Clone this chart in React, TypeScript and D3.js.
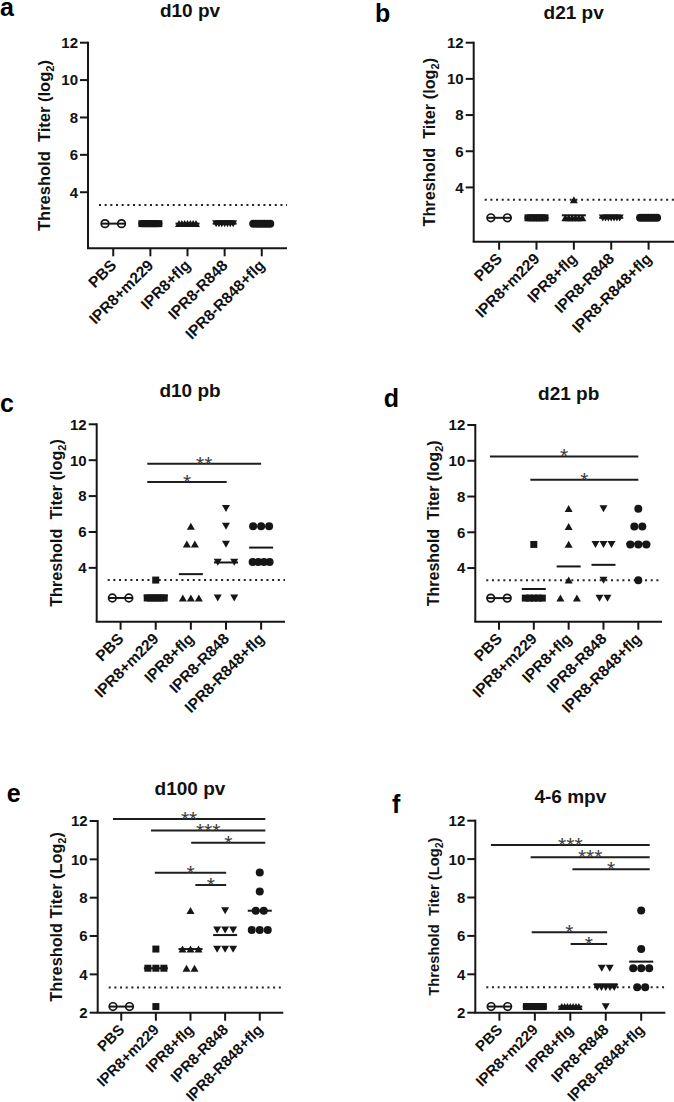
import React from "react";
import * as d3 from "d3";

// ---------- shared categories / ticks ----------
const CATEGORIES = ["PBS", "IPR8+m229", "IPR8+flg", "IPR8-R848", "IPR8-R848+flg"];
const MARKERS = ["openCircle", "square", "triUp", "triDown", "circle"];
const TICKS_EARLY = [4, 6, 8, 10, 12];
const TICKS_LATE = [2, 4, 6, 8, 10, 12];
const DETECTION_LIMIT = 3.32;

// ---------- a: d10 pv ----------
const D10PV_VALUES = [
  [2.32, 2.32],
  [2.32, 2.32, 2.32, 2.32, 2.32, 2.32, 2.32],
  [2.32, 2.32, 2.32, 2.32, 2.32, 2.32, 2.32],
  [2.32, 2.32, 2.32, 2.32, 2.32, 2.32, 2.32],
  [2.32, 2.32, 2.32, 2.32, 2.32, 2.32, 2.32],
];
const D10PV_MEANS = [2.32, 2.32, 2.32, 2.32, 2.32];

// ---------- b: d21 pv ----------
const D21PV_VALUES = [
  [2.32, 2.32],
  [2.32, 2.32, 2.32, 2.32, 2.32, 2.32, 2.32],
  [3.32, 2.32, 2.32, 2.32, 2.32, 2.32, 2.32],
  [2.32, 2.32, 2.32, 2.32, 2.32, 2.32, 2.32],
  [2.32, 2.32, 2.32, 2.32, 2.32, 2.32, 2.32],
];
const D21PV_MEANS = [2.32, 2.32, 2.46, 2.32, 2.32];

// ---------- c: d10 pb ----------
const D10PB_VALUES = [
  [2.32, 2.32],
  [3.32, 2.32, 2.32, 2.32, 2.32, 2.32, 2.32],
  [6.32, 5.32, 5.32, 2.32, 2.32, 2.32],
  [7.32, 6.32, 5.32, 4.32, 4.32, 2.32, 2.32],
  [6.32, 6.32, 6.32, 4.32, 4.32, 4.32, 4.32],
];
const D10PB_MEANS = [2.32, 2.46, 3.65, 4.3, 5.13];
const D10PB_SIG = [
  [0.76, 4, 9.8, "**"],
  [0.76, 3.02, 8.79, "*"],
];

// ---------- d: d21 pb ----------
const D21PB_VALUES = [
  [2.32, 2.32],
  [5.32, 2.32, 2.32, 2.32, 2.32, 2.32],
  [7.32, 6.32, 5.32, 3.32, 2.32, 2.32],
  [7.32, 5.32, 5.32, 5.32, 3.32, 2.32, 2.32],
  [7.32, 6.32, 6.32, 5.32, 5.32, 5.32, 3.32],
];
const D21PB_MEANS = [2.32, 2.83, 4.09, 4.18, 5.36];
const D21PB_SIG = [
  [-0.26, 4, 10.24, "*"],
  [0.9, 4, 8.94, "*"],
];

// ---------- e: d100 pv ----------
const D100PV_VALUES = [
  [2.32, 2.32],
  [5.32, 4.32, 4.32, 4.32, 2.32],
  [7.32, 5.32, 5.32, 5.32, 4.32, 4.32],
  [7.32, 6.32, 6.32, 6.32, 5.32, 5.32, 5.32],
  [9.32, 8.32, 7.32, 7.32, 6.32, 6.32, 6.32],
];
const D100PV_MEANS = [2.32, 4.32, 5.32, 6.05, 7.32];
const D100PV_SIG = [
  [-0.24, 4.16, 12.1, "**"],
  [0.86, 4.16, 11.5, "***"],
  [2.02, 4.16, 10.87, "*"],
  [0.97, 3.03, 9.3, "*"],
  [2.14, 3.03, 8.66, "*"],
];

// ---------- f: 4-6 mpv ----------
const MPV_VALUES = [
  [2.32, 2.32],
  [2.32, 2.32, 2.32, 2.32, 2.32, 2.32, 2.32],
  [2.32, 2.32, 2.32, 2.32, 2.32, 2.32, 2.32],
  [4.32, 4.32, 3.32, 3.32, 3.32, 3.32, 3.32, 2.32],
  [7.32, 5.32, 4.32, 4.32, 4.32, 3.32, 3.32],
];
const MPV_MEANS = [2.32, 2.32, 2.32, 3.48, 4.66];
const MPV_SIG = [
  [-0.24, 4.24, 10.73, "***"],
  [0.88, 4.24, 10.1, "***"],
  [2.06, 4.24, 9.47, "*"],
  [0.91, 3.04, 6.19, "*"],
  [2.01, 3.04, 5.58, "*"],
];

// ---------- layout (positions / styles) ----------
const FONT = "'Liberation Sans', Arial, Helvetica, sans-serif";
const INK = "#161616";

type Panel = {
  letter: string;
  title: string;
  values: number[][];
  means: number[];
  sig: any[];
  yMin: number;
  ticks: number[];
  yLabel: string;
  subPrefix: string;
  axisX: number;
  xEnd: number;
  yTop: number;
  yBottom: number;
  yLabelX: number;
  yLabelSize: number;
  xLabelSize: number;
  titleX: number;
  titleY: number;
  letterX: number;
  letterY: number;
  widePairs: number[][]; // [groupIndex, value]
};

const PANELS: Panel[] = [
  {
    letter: "a", title: "d10 pv", values: D10PV_VALUES, means: D10PV_MEANS, sig: [],
    yMin: 1, ticks: TICKS_EARLY, yLabel: "Threshold\u00a0 Titer (", subPrefix: "log",
    axisX: 88, xEnd: 287, yTop: 42.7, yBottom: 248.3, yLabelX: 50, yLabelSize: 16.5, xLabelSize: 15.5,
    titleX: 190, titleY: 16.5, letterX: 0, letterY: 16, widePairs: [],
  },
  {
    letter: "b", title: "d21 pv", values: D21PV_VALUES, means: D21PV_MEANS, sig: [],
    yMin: 1, ticks: TICKS_EARLY, yLabel: "Threshold\u00a0 Titer (", subPrefix: "log",
    axisX: 473.7, xEnd: 674, yTop: 42.7, yBottom: 241.7, yLabelX: 435.3, yLabelSize: 16.3, xLabelSize: 15.5,
    titleX: 573.7, titleY: 19, letterX: 375, letterY: 22, widePairs: [],
  },
  {
    letter: "c", title: "d10 pb", values: D10PB_VALUES, means: D10PB_MEANS, sig: D10PB_SIG,
    yMin: 1, ticks: TICKS_EARLY, yLabel: "Threshold\u00a0 Titer (", subPrefix: "log",
    axisX: 96.7, xEnd: 285, yTop: 424.3, yBottom: 621.7, yLabelX: 61.7, yLabelSize: 16.2, xLabelSize: 15.5,
    titleX: 190, titleY: 397, letterX: 0, letterY: 411.7, widePairs: [[3, 2.32], [3, 4.32]],
  },
  {
    letter: "d", title: "d21 pb", values: D21PB_VALUES, means: D21PB_MEANS, sig: D21PB_SIG,
    yMin: 1, ticks: TICKS_EARLY, yLabel: "Threshold\u00a0 Titer (", subPrefix: "log",
    axisX: 475.3, xEnd: 662, yTop: 425, yBottom: 621.7, yLabelX: 438.7, yLabelSize: 16, xLabelSize: 15.5,
    titleX: 568.7, titleY: 400, letterX: 383.7, letterY: 406.7, widePairs: [[2, 2.32]],
  },
  {
    letter: "e", title: "d100 pv", values: D100PV_VALUES, means: D100PV_MEANS, sig: D100PV_SIG,
    yMin: 2, ticks: TICKS_LATE, yLabel: "Threshold Titer (", subPrefix: "Log",
    axisX: 97.7, xEnd: 283.3, yTop: 821, yBottom: 1012.7, yLabelX: 61.7, yLabelSize: 16.3, xLabelSize: 15,
    titleX: 190, titleY: 795, letterX: 6.7, letterY: 801.7, widePairs: [],
  },
  {
    letter: "f", title: "4-6 mpv", values: MPV_VALUES, means: MPV_MEANS, sig: MPV_SIG,
    yMin: 2, ticks: TICKS_LATE, yLabel: "Threshold\u00a0 Titer (", subPrefix: "Log",
    axisX: 475.3, xEnd: 665.3, yTop: 820.7, yBottom: 1012.7, yLabelX: 438.7, yLabelSize: 14.8, xLabelSize: 15,
    titleX: 570.3, titleY: 803.3, letterX: 392, letterY: 813.3, widePairs: [],
  },
];

function spreadOffsets(k: number, wide: boolean): number[] {
  if (k === 1) return [0];
  const spacing = wide ? 16.5 : k <= 3 ? 8 : 17 / (k - 1);
  return d3.range(k).map((j) => (j - (k - 1) / 2) * spacing);
}

function Marker({ type, x, y }: { type: string; x: number; y: number }) {
  if (type === "openCircle")
    return <circle cx={x} cy={y} r={3.8} fill="none" stroke={INK} strokeWidth={1.7} />;
  if (type === "square")
    return <rect x={x - 3.5} y={y - 3.5} width={7} height={7} fill={INK} />;
  if (type === "triUp")
    return <path d={`M${x - 4},${y + 3.4}L${x + 4},${y + 3.4}L${x},${y - 3.6}Z`} fill={INK} />;
  if (type === "triDown")
    return <path d={`M${x - 4},${y - 3.4}L${x + 4},${y - 3.4}L${x},${y + 3.6}Z`} fill={INK} />;
  return <circle cx={x} cy={y} r={4} fill={INK} />;
}

function PanelView({ p }: { p: Panel }) {
  const x = d3.scalePoint<string>().domain(CATEGORIES).range([p.axisX, p.xEnd]).padding(0.68);
  const y = d3.scaleLinear().domain([p.yMin, 12]).range([p.yBottom, p.yTop]);
  const step = x.step();
  const x0 = x(CATEGORIES[0]) as number;
  const catX = (i: number) => x0 + i * step;
  const yMid = (p.yTop + p.yBottom) / 2;

  const points: { key: string; type: string; px: number; py: number }[] = [];
  p.values.forEach((vals, gi) => {
    const rows = d3.group(vals, (v) => v.toFixed(2));
    const cx = x(CATEGORIES[gi]) as number;
    rows.forEach((arr, key) => {
      const v = +key;
      const wide = gi === 0 || p.widePairs.some((w) => w[0] === gi && Math.abs(w[1] - v) < 0.01);
      spreadOffsets(arr.length, wide).forEach((off, j) => {
        points.push({ key: `${gi}-${key}-${j}`, type: MARKERS[gi], px: cx + off, py: y(v) });
      });
    });
  });

  return (
    <g>
      <text x={p.letterX} y={p.letterY} fontFamily={FONT} fontWeight="bold" fontSize={25} fill="#000">
        {p.letter}
      </text>
      <text x={p.titleX} y={p.titleY} textAnchor="middle" fontFamily={FONT} fontWeight="bold" fontSize={19} fill="#111">
        {p.title}
      </text>
      <text
        transform={`translate(${p.yLabelX},${yMid}) rotate(-90)`}
        textAnchor="middle"
        fontFamily={FONT}
        fontWeight="bold"
        fontSize={p.yLabelSize}
        fill="#111"
      >
        {p.yLabel}
        {p.subPrefix}
        <tspan fontSize={p.yLabelSize * 0.68} dy={4}>2</tspan>
        <tspan dy={-4}>)</tspan>
      </text>

      {/* detection limit */}
      <line
        x1={p.axisX + 11}
        x2={p.xEnd}
        y1={y(DETECTION_LIMIT)}
        y2={y(DETECTION_LIMIT)}
        stroke="#222"
        strokeWidth={2}
        strokeDasharray="2 3.67"
      />

      {/* y axis */}
      <line x1={p.axisX} x2={p.axisX} y1={p.yBottom} y2={p.yTop - 1} stroke={INK} strokeWidth={2} />
      {p.ticks.map((t) => (
        <g key={t}>
          <line x1={p.axisX - 8} x2={p.axisX} y1={y(t)} y2={y(t)} stroke={INK} strokeWidth={2} />
          <text
            x={p.axisX - 10}
            y={y(t)}
            dy="0.36em"
            textAnchor="end"
            fontFamily={FONT}
            fontWeight="bold"
            fontSize={15}
            fill="#111"
          >
            {t}
          </text>
        </g>
      ))}

      {/* x axis */}
      <line x1={p.axisX - 1} x2={p.xEnd} y1={p.yBottom} y2={p.yBottom} stroke={INK} strokeWidth={2} />
      {CATEGORIES.map((c) => {
        const cx = x(c) as number;
        return (
          <g key={c}>
            <line x1={cx} x2={cx} y1={p.yBottom} y2={p.yBottom + 8} stroke={INK} strokeWidth={2} />
            <text
              transform={`translate(${cx + 4},${p.yBottom + 18}) rotate(-45)`}
              textAnchor="end"
              fontFamily={FONT}
              fontWeight="bold"
              fontSize={p.xLabelSize}
              fill="#111"
            >
              {c}
            </text>
          </g>
        );
      })}

      {/* points */}
      {points.map((pt) => (
        <Marker key={pt.key} type={pt.type} x={pt.px} y={pt.py} />
      ))}

      {/* mean lines */}
      {p.means.map((m, gi) => {
        const cx = x(CATEGORIES[gi]) as number;
        return <line key={gi} x1={cx - 12} x2={cx + 12} y1={y(m)} y2={y(m)} stroke={INK} strokeWidth={2} />;
      })}

      {/* significance */}
      {p.sig.map((s, i) => {
        const x1 = catX(s[0]);
        const x2 = catX(s[1]);
        const yy = y(s[2]);
        return (
          <g key={i}>
            <line x1={x1} x2={x2} y1={yy} y2={yy} stroke="#1e1e1e" strokeWidth={2} />
            <text
              x={(x1 + x2) / 2}
              y={yy + 7}
              textAnchor="middle"
              fontFamily={FONT}
              fontSize={21}
              fill="#3a3a3a"
            >
              {s[3]}
            </text>
          </g>
        );
      })}
    </g>
  );
}

export default function App() {
  return (
    <svg
      width={674}
      height={1102}
      viewBox="0 0 674 1102"
      style={{ position: "absolute", left: 0, top: 0, background: "#fff" }}
    >
      <rect width={674} height={1102} fill="#fff" />
      {PANELS.map((p) => (
        <PanelView key={p.letter} p={p} />
      ))}
    </svg>
  );
}
